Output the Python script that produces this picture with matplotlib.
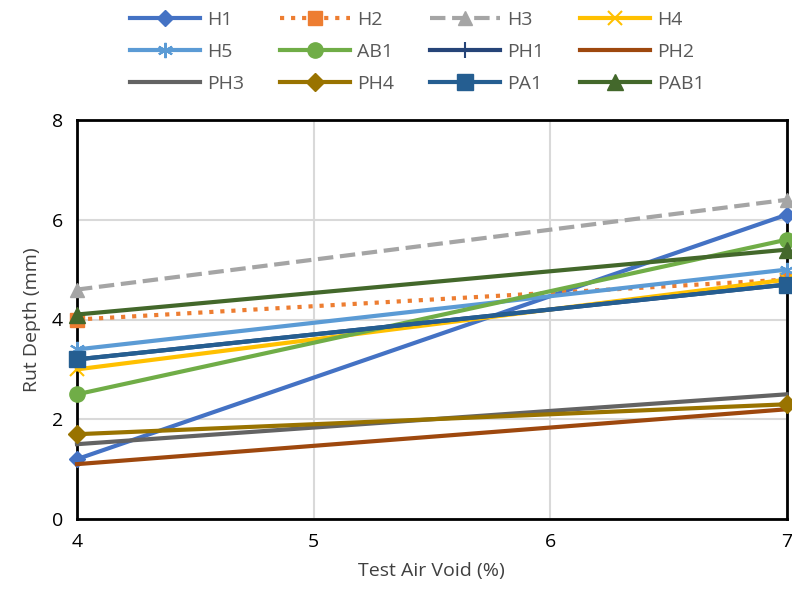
import matplotlib
matplotlib.use("Agg")
import matplotlib.pyplot as plt

x_vals = [4, 7]
names = ["H1", "H2", "H3", "H4", "H5", "AB1", "PH1", "PH2", "PH3", "PH4", "PA1", "PAB1"]
start_vals = [1.2, 4.0, 4.6, 3.0, 3.4, 2.5, 3.2, 1.1, 1.5, 1.7, 3.2, 4.1]
end_vals = [6.1, 4.8, 6.4, 4.8, 5.0, 5.6, 4.7, 2.2, 2.5, 2.3, 4.7, 5.4]
colors = ["#4472C4", "#ED7D31", "#A5A5A5", "#FFC000", "#5B9BD5", "#70AD47",
          "#264478", "#9E480E", "#636363", "#997300", "#255E91", "#43682B"]
markers = ["D", "s", "^", "x", (6, 2, 0), "o", "+", None, None, "D", "s", "^"]
styles = ["-", ":", "--", "-", "-", "-", "-", "-", "-", "-", "-", "-"]
msizes = [8, 10, 10, 10, 11, 11, 12, 0, 0, 9, 11, 11]

plt.rcParams['font.family'] = ['Open Sans', 'DejaVu Sans']
fig = plt.figure(figsize=(7.92, 6), dpi=100)
ax = fig.add_axes([0.0972, 0.135, 0.896, 0.665])

handles = []
for i, n in enumerate(names):
    mk = markers[i]
    kw = {}
    if mk in ("x", "+") or isinstance(mk, tuple):
        kw = dict(markeredgewidth=1.5)
    h, = ax.plot(x_vals, [start_vals[i], end_vals[i]], color=colors[i], linestyle=styles[i],
                 linewidth=3, marker=mk, markersize=msizes[i], label=n, clip_on=False,
                 markeredgecolor=colors[i], zorder=3, **kw)
    handles.append(h)

ax.set_xlim(4, 7)
ax.set_ylim(0, 8)
ax.set_xticks([4, 5, 6, 7])
ax.set_yticks([0, 2, 4, 6, 8])
ax.grid(True, color="#D9D9D9", linewidth=1.5)
ax.set_axisbelow(True)
for s in ax.spines.values():
    s.set_color("black")
    s.set_linewidth(2)
ax.tick_params(axis='both', length=0, labelsize=14, pad=10)
ax.set_xlabel("Test Air Void (%)", fontsize=14, color="#404040", labelpad=8)
ax.set_ylabel("Rut Depth (mm)", fontsize=14, color="#404040", labelpad=8)

# one legend column per slot so the columns sit at even spacing, reading row by row
col_x = [130, 280, 430, 580]
for c in range(4):
    idx = [r * 4 + c for r in range(3)]
    leg = fig.legend([handles[k] for k in idx], [names[k] for k in idx],
                     loc="upper left", bbox_to_anchor=(col_x[c] / 792, 0.982),
                     frameon=False, fontsize=14, handlelength=3.6, labelspacing=0.72,
                     handletextpad=0.35, borderpad=0, borderaxespad=0)
    for t in leg.get_texts():
        t.set_color("#595959")

fig.savefig("out.png", dpi=100)
